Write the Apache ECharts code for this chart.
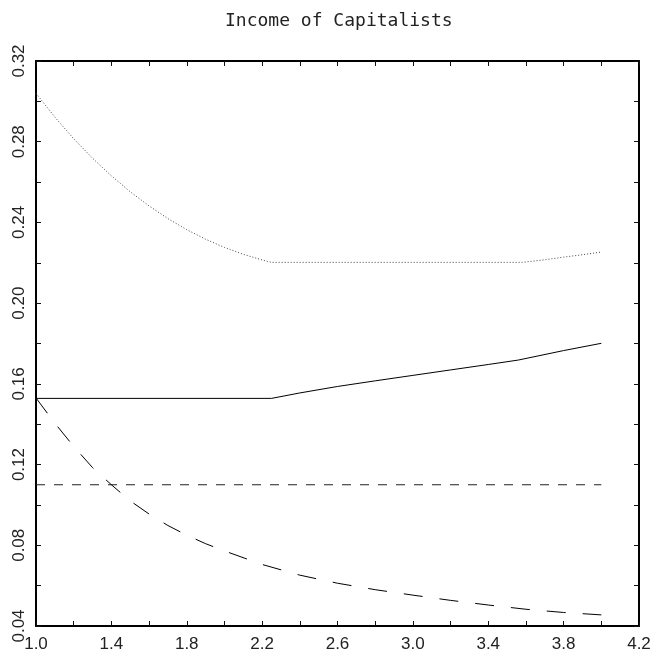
<!DOCTYPE html>
<html>
<head>
<meta charset="utf-8">
<script src="https://cdn.jsdelivr.net/npm/echarts@6/dist/echarts.min.js"></script>
<style>html,body{margin:0;padding:0;background:#fff}#c{width:654px;height:649px}</style>
</head>
<body>
<div id="c"></div>
<script>
const titleText = 'Income of Capitalists';
const xTickLabels = ['1.0','1.4','1.8','2.2','2.6','3.0','3.4','3.8','4.2'];
const yTickLabels = ['0.04','0.08','0.12','0.16','0.20','0.24','0.28','0.32'];

const solidX = [1.0, 2.25, 2.4, 2.6, 2.8, 3.0, 3.2, 3.4, 3.56, 3.8, 4.0];
const solidY = [0.1528, 0.1528, 0.1555, 0.1587, 0.1615, 0.1642, 0.1669, 0.1696, 0.1718, 0.1765, 0.1801];

const dottedX = [1.0, 1.1, 1.2, 1.3, 1.4, 1.5, 1.6, 1.7, 1.8, 1.9, 2.0, 2.1, 2.2, 2.25, 3.58, 3.7, 3.8, 3.9, 4.0];
const dottedY = [0.304, 0.2922, 0.2815, 0.2718, 0.2631, 0.2552, 0.2482, 0.2419, 0.2364, 0.2317, 0.2276, 0.2242, 0.2214, 0.2202, 0.2202, 0.2215, 0.2228, 0.224, 0.2253];

const shortDashX = [1.0, 4.0];
const shortDashY = [0.110, 0.110];

const longDashX = [1.0, 1.1, 1.2, 1.3, 1.4, 1.5, 1.6, 1.7, 1.8, 1.9, 2.0, 2.2, 2.4, 2.6, 2.8, 3.0, 3.2, 3.4, 3.6, 3.8, 4.0];
const longDashY = [0.153, 0.1405, 0.129, 0.1185, 0.110, 0.102, 0.0955, 0.0898, 0.0850, 0.0808, 0.0772, 0.0705, 0.0652, 0.0612, 0.0580, 0.0553, 0.0527, 0.0504, 0.0483, 0.0467, 0.0455];

const pairs = (xs, ys) => xs.map((x, i) => [x, ys[i]]);

const chart = echarts.init(document.getElementById('c'), null, {renderer: 'canvas'});
const labelFont = {fontFamily: 'Liberation Sans', fontSize: 17, color: '#222'};
const tickStyle = {color: '#111', width: 1};

function xAxisDef(pos, showLabel) {
  return {
    type: 'value', position: pos, min: 1.0, max: 4.2, interval: 0.4,
    axisLine: {show: true, onZero: false, lineStyle: {color: '#000', width: 2}},
    axisTick: {show: true, inside: true, length: 5, lineStyle: tickStyle},
    minorTick: {show: true, splitNumber: 2, length: 5, lineStyle: tickStyle},
    splitLine: {show: false},
    axisLabel: {show: showLabel, margin: 10, ...labelFont,
      formatter: v => { const i = Math.round((v - 1.0) / 0.4); return xTickLabels[i] ?? ''; }}
  };
}
function yAxisDef(pos, showLabel) {
  return {
    type: 'value', position: pos, min: 0.04, max: 0.32, interval: 0.04,
    axisLine: {show: true, onZero: false, lineStyle: {color: '#000', width: 2}},
    axisTick: {show: true, inside: true, length: 5, lineStyle: tickStyle},
    minorTick: {show: true, splitNumber: 2, length: 5, lineStyle: tickStyle},
    splitLine: {show: false},
    axisLabel: {show: showLabel, margin: 8, rotate: 90, ...labelFont,
      formatter: v => { const i = Math.round((v - 0.04) / 0.04); return yTickLabels[i] ?? ''; }}
  };
}

chart.setOption({
  animation: false,
  backgroundColor: '#fff',
  title: {
    text: titleText, left: 220, top: 7,
    textStyle: {fontFamily: 'DejaVu Sans Mono', fontSize: 18, fontWeight: 'normal', color: '#222'}
  },
  grid: {left: 36, right: 15, top: 61, bottom: 23, containLabel: false, outerBoundsMode: 'none'},
  xAxis: [xAxisDef('bottom', true), xAxisDef('top', false)],
  yAxis: [yAxisDef('left', true), yAxisDef('right', false)],
  series: [
    {type: 'line', data: pairs(solidX, solidY), showSymbol: false, lineStyle: {color: '#000', width: 1, type: 'solid'}},
    {type: 'line', data: pairs(dottedX, dottedY), showSymbol: false, lineStyle: {color: '#444', width: 1, type: [1, 2]}},
    {type: 'line', data: pairs(shortDashX, shortDashY), showSymbol: false, lineStyle: {color: '#222', width: 1, type: [9, 9]}},
    {type: 'line', data: pairs(longDashX, longDashY), showSymbol: false, lineStyle: {color: '#000', width: 1, type: [19, 17]}}
  ]
});
</script>
</body>
</html>
